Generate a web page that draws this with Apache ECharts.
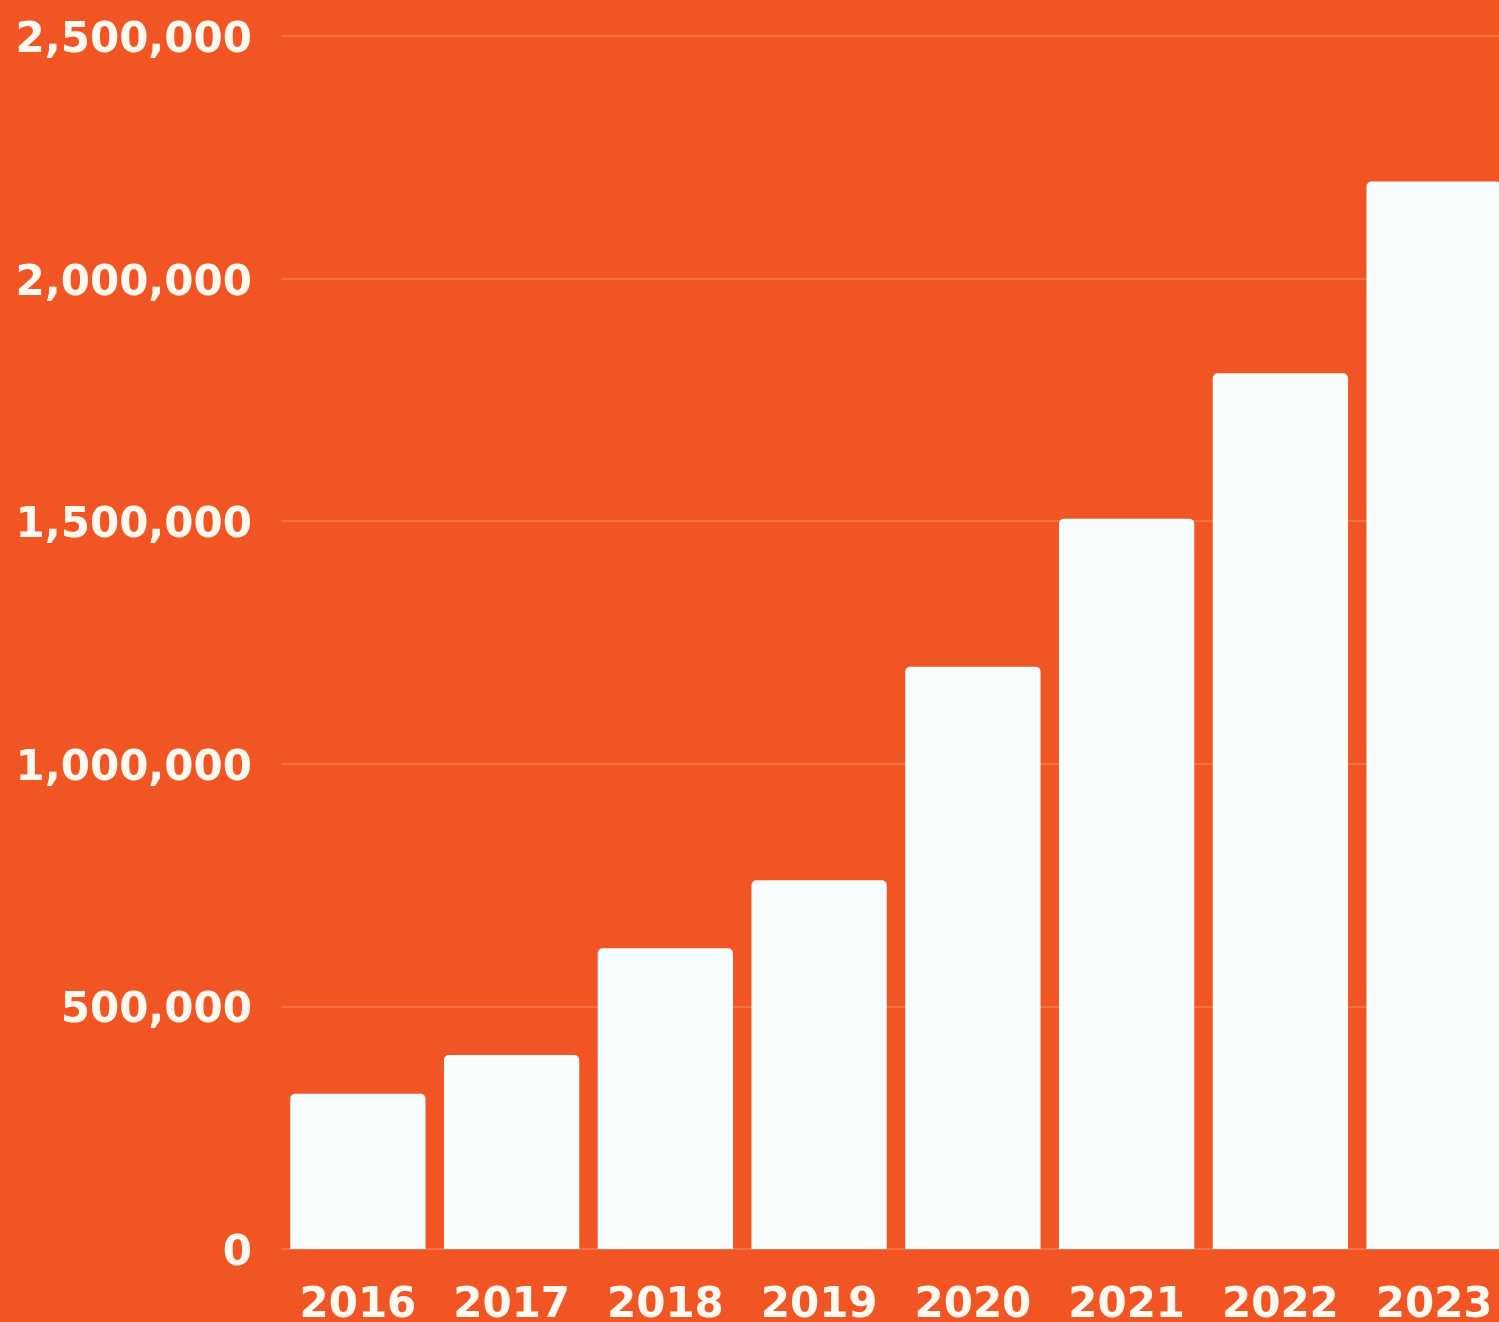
<!DOCTYPE html>
<html>
<head>
<meta charset="utf-8">
<script src="https://cdn.jsdelivr.net/npm/echarts@6/dist/echarts.min.js"></script>
<style>
  html, body { margin: 0; padding: 0; background: #F05523; overflow: hidden; }
  #chart { width: 1499px; height: 1322px; }
</style>
</head>
<body>
<div id="chart"></div>
<script>
const years = ['2016', '2017', '2018', '2019', '2020', '2021', '2022', '2023'];
const values = [320000, 400000, 620000, 760000, 1200000, 1505000, 1805000, 2200000];
const yTicks = [0, 500000, 1000000, 1500000, 2000000, 2500000];

const chart = echarts.init(document.getElementById('chart'), null, { renderer: 'canvas' });
chart.setOption({
  backgroundColor: '#F05523',
  animation: false,
  grid: { left: 281, top: 36, bottom: 73, right: -12, containLabel: false, outerBoundsMode: 'none' },
  xAxis: {
    type: 'category',
    data: years,
    axisLine: { show: false },
    axisTick: { show: false },
    axisLabel: {
      color: '#FFF9F0',
      fontFamily: 'DejaVu Sans',
      fontWeight: 'bold',
      fontSize: 42,
      margin: 36
    }
  },
  yAxis: {
    type: 'value',
    min: yTicks[0],
    max: yTicks[yTicks.length - 1],
    interval: 500000,
    axisLine: { show: false },
    axisTick: { show: false },
    splitLine: { lineStyle: { color: 'rgba(255,255,255,0.22)', width: 1.5 } },
    axisLabel: {
      color: '#FFF9F0',
      fontFamily: 'DejaVu Sans',
      fontWeight: 'bold',
      fontSize: 42,
      margin: 29,
      formatter: v => '{a|' + v.toLocaleString('en-US') + '}',
      rich: {
        a: {
          color: '#FFF9F0',
          fontFamily: 'DejaVu Sans',
          fontWeight: 'bold',
          fontSize: 42,
          padding: [10, 0, 0, 0]
        }
      }
    }
  },
  series: [{
    type: 'bar',
    data: values,
    barCategoryGap: '12%',
    itemStyle: { color: '#F8FDFE', borderRadius: [5, 5, 0, 0] }
  }]
});
</script>
</body>
</html>
